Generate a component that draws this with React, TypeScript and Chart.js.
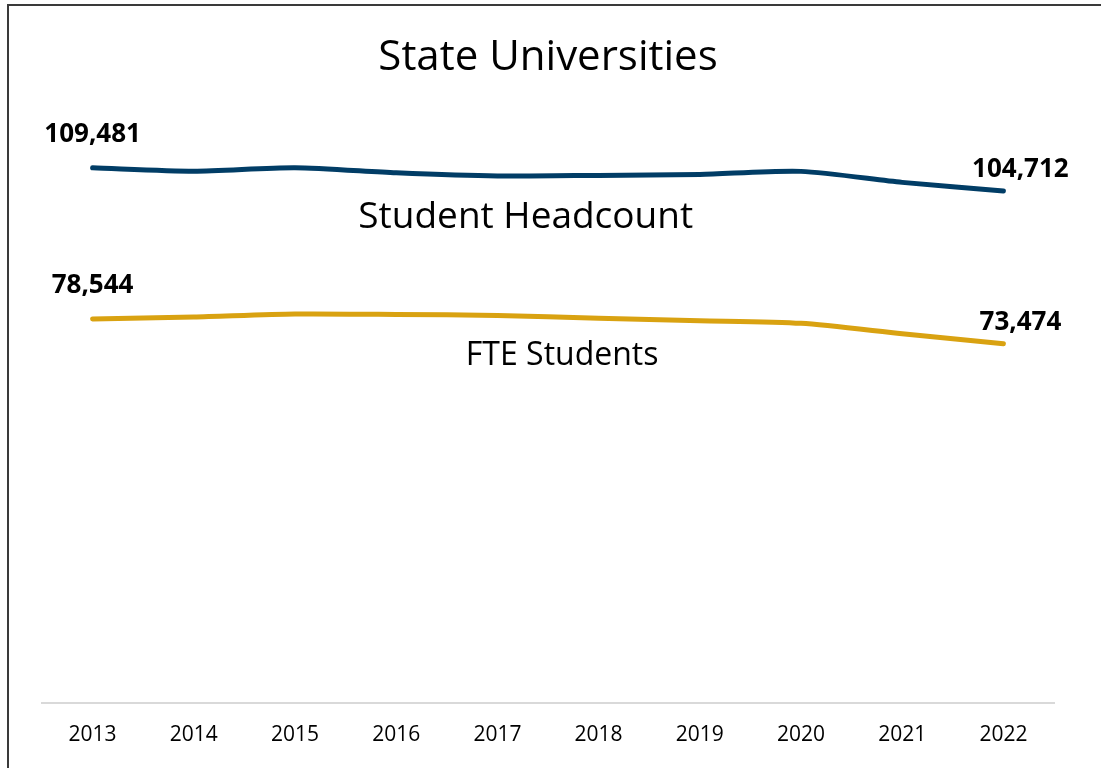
import React, { useEffect, useRef } from "react";
import { Chart, registerables } from "chart.js";

Chart.register(...registerables);

const years = ["2013", "2014", "2015", "2016", "2017", "2018", "2019", "2020", "2021", "2022"];
const headcount = [109481, 108800, 109500, 108450, 107800, 107930, 108130, 108750, 106500, 104712];
const fteStudents = [78544, 78950, 79560, 79480, 79280, 78670, 78200, 77650, 75540, 73474];
const seriesNames = ["Student Headcount", "FTE Students"];
const chartTitle = "State Universities";

const NAVY = "#013d66";
const GOLD = "#d9a211";
const FONT = "'Open Sans', 'Noto Sans', sans-serif";

const fmt = (v: number) => v.toLocaleString("en-US");

const labelPlugin = {
  id: "endLabels",
  afterDatasetsDraw(chart: any) {
    const ctx = chart.ctx;
    const area = chart.chartArea;
    ctx.save();
    ctx.fillStyle = "#000";
    ctx.textAlign = "center";
    ctx.textBaseline = "alphabetic";
    ctx.font = `bold 26px ${FONT}`;
    chart.data.datasets.forEach((ds: any, i: number) => {
      const meta = chart.getDatasetMeta(i);
      const first = meta.data[0];
      const last = meta.data[meta.data.length - 1];
      const vals = ds.data as number[];
      ctx.fillText(fmt(vals[0]), first.x, first.y - 26);
      ctx.fillText(fmt(vals[vals.length - 1]), last.x + 17, last.y - 14);
    });
    // series name labels
    ctx.font = `37px ${FONT}`;
    const w = area.right - area.left;
    ctx.fillText(seriesNames[0], area.left + w * 0.478, 228);
    ctx.font = `32px ${FONT}`;
    ctx.fillText(seriesNames[1], area.left + w * 0.514, 365);
    ctx.restore();
  },
};

export default function App() {
  const ref = useRef<HTMLCanvasElement>(null);
  useEffect(() => {
    if (!ref.current) return;
    const chart = new Chart(ref.current, {
      type: "line",
      data: {
        labels: years,
        datasets: [
          {
            label: seriesNames[0],
            data: headcount,
            borderColor: NAVY,
            backgroundColor: NAVY,
            borderWidth: 5,
            pointRadius: 0,
            tension: 0.25,
            borderCapStyle: "round",
            borderJoinStyle: "round",
          },
          {
            label: seriesNames[1],
            data: fteStudents,
            borderColor: GOLD,
            backgroundColor: GOLD,
            borderWidth: 5,
            pointRadius: 0,
            tension: 0.25,
            borderCapStyle: "round",
            borderJoinStyle: "round",
          },
        ],
      },
      options: {
        responsive: false,
        animation: false,
        layout: { padding: { left: 42, right: 67, top: 0, bottom: 0 } },
        plugins: {
          legend: { display: false },
          tooltip: { enabled: false },
          title: {
            display: true,
            text: chartTitle,
            color: "#000",
            font: { family: FONT, size: 42, weight: "normal" as any, lineHeight: 1.2 },
            padding: { top: 33, bottom: 33 },
          },
        },
        scales: {
          x: {
            offset: true,
            grid: { display: false, drawTicks: false },
            border: { display: true, color: "#d9d9d9", width: 2 },
            ticks: { color: "#000", font: { family: FONT, size: 21 }, padding: 20 },
          },
          y: {
            display: false,
            min: 0,
            max: 120000,
          },
        },
      },
      plugins: [labelPlugin],
    });
    return () => chart.destroy();
  }, []);

  return (
    <div style={{ position: "fixed", left: 0, top: 0, width: 1101, height: 768, overflow: "hidden", background: "#fff" }}>
      <div
        style={{
          position: "absolute",
          left: 7,
          top: 4,
          width: 1200,
          height: 900,
          border: "2px solid #3a3a3a",
          boxSizing: "border-box",
        }}
      />
      <canvas ref={ref} width={1121} height={768} style={{ position: "absolute", left: 0, top: 0, width: 1121, height: 768 }} />
    </div>
  );
}
